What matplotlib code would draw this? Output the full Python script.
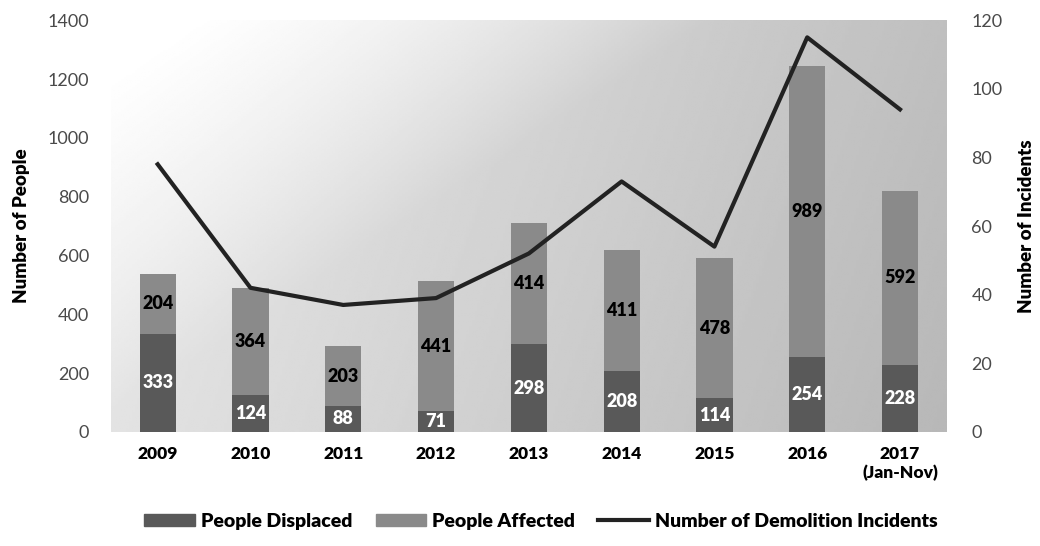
import numpy as np
import matplotlib.pyplot as plt
from matplotlib.patches import Patch
from matplotlib.lines import Line2D

years = ["2009", "2010", "2011", "2012", "2013", "2014", "2015", "2016", "2017\n(Jan-Nov)"]
people_displaced = [333, 124, 88, 71, 298, 208, 114, 254, 228]
people_affected = [204, 364, 203, 441, 414, 411, 478, 989, 592]
demolition_incidents = [78, 42, 37, 39, 52, 73, 54, 115, 94]

left_ticks = [0, 200, 400, 600, 800, 1000, 1200, 1400]
right_ticks = [0, 20, 40, 60, 80, 100, 120]

plt.rcParams['font.family'] = ['Lato', 'DejaVu Sans']
HEAVY = 'heavy'

fig = plt.figure(figsize=(10.4, 5.46), dpi=100)
ax = fig.add_axes([0.107, 0.209, 0.803, 0.754])
ax2 = ax.twinx()

x = np.arange(len(years))

# soft grey wash behind the plot, heavier towards the right
gx = np.linspace(0, 1, 300)
gy = np.linspace(0, 1, 200)
GX, GY = np.meshgrid(gx, gy)
shade = 0.08 + 0.17 * GX + 0.03 * (1 - GY)
fade = np.clip((GX * 1.6 + (1 - GY) * 1.2) - 0.15, 0, 1)
shade = shade * fade
ax.imshow(1 - shade, cmap='gray', vmin=0, vmax=1, extent=[0, 1, 0, 1],
          transform=ax.transAxes, aspect='auto', origin='lower', zorder=0,
          interpolation='bilinear')

col_disp = '#595959'
col_aff = '#8a8a8a'
w = 0.39
ax.bar(x, people_displaced, w, color=col_disp, zorder=2)
ax.bar(x, people_affected, w, bottom=people_displaced, color=col_aff, zorder=2)

for xi, d, a in zip(x, people_displaced, people_affected):
    ax.text(xi, d / 2, str(d), ha='center', va='center', color='white',
            fontsize=13, fontweight=HEAVY, zorder=3)
    ax.text(xi, d + a / 2, str(a), ha='center', va='center', color='black',
            fontsize=13, fontweight=HEAVY, zorder=3)

ax.set_xlim(-0.5, len(years) - 0.5)
ax.set_ylim(0, 1400)
ax.set_yticks(left_ticks)
ax.set_xticks(x)
ax.set_xticklabels(years, fontsize=12.5, fontweight=HEAVY)
ax.tick_params(axis='x', length=0, pad=10)
ax.tick_params(axis='y', length=0, pad=16, labelsize=13, labelcolor='#4a4a4a')

ax2.plot(x, demolition_incidents, color='#222222', linewidth=3, zorder=4)
ax2.set_ylim(0, 120)
ax2.set_yticks(right_ticks)
ax2.tick_params(axis='y', length=0, pad=18, labelsize=13, labelcolor='#4a4a4a')

fig.text(0.021, 0.586, 'Number of People', rotation=90, ha='center', va='center',
         fontsize=13.5, fontweight=HEAVY)
fig.text(0.987, 0.586, 'Number of Incidents', rotation=90, ha='center', va='center',
         fontsize=13.5, fontweight=HEAVY)

for a in (ax, ax2):
    for s in a.spines.values():
        s.set_visible(False)
ax.set_zorder(ax2.get_zorder() - 1)
ax2.patch.set_visible(False)

handles = [Patch(color=col_disp), Patch(color=col_aff),
           Line2D([0], [0], color='#222222', linewidth=3)]
labels = ['People Displaced', 'People Affected', 'Number of Demolition Incidents']
fig.legend(handles, labels, loc='center', bbox_to_anchor=(0.52, 0.045),
           ncol=3, frameon=False, handlelength=2.6, handleheight=0.6,
           columnspacing=1.2, handletextpad=0.3,
           prop={'weight': HEAVY, 'size': 14})

fig.savefig('out.png', dpi=100)
